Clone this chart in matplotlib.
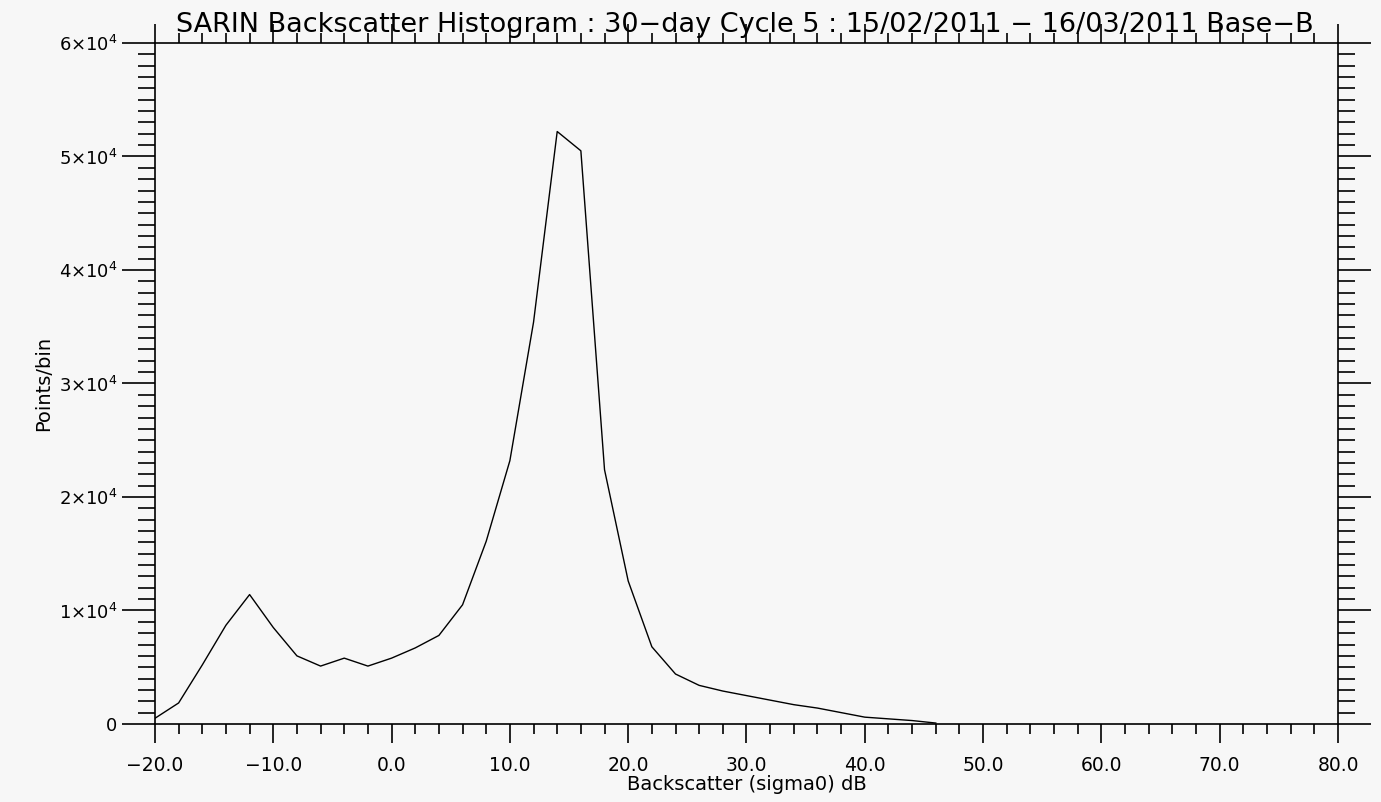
import matplotlib.pyplot as plt
from matplotlib.ticker import MultipleLocator, FuncFormatter

# histogram bins (dB) and counts
sigma0 = [-20, -18, -16, -14, -12, -10, -8, -6, -4, -2, 0, 2, 4, 6, 8, 10, 12,
          14, 16, 18, 20, 22, 24, 26, 28, 30, 32, 34, 36, 38, 40, 42, 44, 46]
counts = [500, 1850, 5200, 8700, 11400, 8500, 6000, 5100, 5800, 5100, 5800,
          6700, 7800, 10500, 16100, 23200, 35400, 52200, 50500, 22400, 12600,
          6800, 4400, 3400, 2900, 2500, 2100, 1700, 1400, 1000, 600, 450, 300,
          80]

title = "SARIN Backscatter Histogram : 30\u2212day Cycle 5 : 15/02/2011 \u2212 16/03/2011 Base\u2212B"
bg = '#f7f7f7'


def ylab(v, pos):
    if v == 0:
        return '0'
    return r'%d$\times$10$^{4}$' % round(v / 1e4)


def xlab(v, pos):
    return ('%.1f' % v).replace('-', '\u2212')


fig = plt.figure(figsize=(13.81, 8.02), dpi=100, facecolor=bg)
ax = fig.add_axes([0.1122, 0.0973, 0.8567, 0.8491])
ax.set_facecolor(bg)

ax.plot(sigma0, counts, color='black', lw=1.0)

ax.set_xlim(-20, 80)
ax.set_ylim(0, 6e4)
ax.xaxis.set_major_locator(MultipleLocator(10))
ax.xaxis.set_minor_locator(MultipleLocator(2))
ax.yaxis.set_major_locator(MultipleLocator(1e4))
ax.yaxis.set_minor_locator(MultipleLocator(1e3))
ax.xaxis.set_major_formatter(FuncFormatter(xlab))
ax.yaxis.set_major_formatter(FuncFormatter(ylab))

ax.tick_params(axis='both', which='both', direction='out', top=True,
               right=True, color='black', width=1.2, labelsize=13)
ax.tick_params(axis='x', which='major', length=14, pad=9, labelsize=13.5)
ax.tick_params(axis='x', which='minor', length=7)
ax.tick_params(axis='y', which='major', length=24, pad=3)
ax.tick_params(axis='y', which='minor', length=12)
for s in ax.spines.values():
    s.set_linewidth(1.2)

ax.set_xlabel('Backscatter (sigma0) dB', fontsize=14, labelpad=0)
ax.set_ylabel('Points/bin', fontsize=14, labelpad=4)
fig.text(0.539, 0.969, title, ha='center', va='center', fontsize=19.5)

fig.savefig('out.png', dpi=100, facecolor=bg)
